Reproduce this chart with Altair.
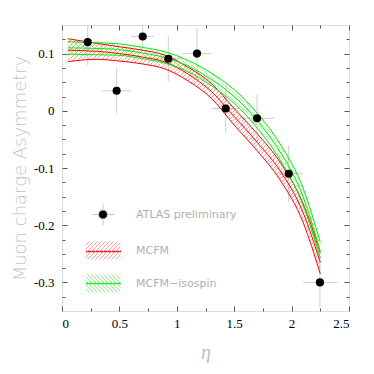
import altair as alt
import pandas as pd

# ---------------- data ----------------
eta = [0.224, 0.476, 0.703, 0.926, 1.176, 1.426, 1.699, 1.975, 2.247]
eta_lo = [0.10, 0.35, 0.60, 0.80, 1.05, 1.30, 1.55, 1.85, 2.10]
eta_hi = [0.35, 0.60, 0.80, 1.05, 1.30, 1.55, 1.85, 2.10, 2.40]
asym = [0.120, 0.035, 0.130, 0.091, 0.100, 0.004, -0.013, -0.110, -0.300]
asym_err = [0.040, 0.040, 0.025, 0.040, 0.045, 0.042, 0.041, 0.050, 0.045]

curve_eta = [0.05, 0.3, 0.5, 0.7, 0.9, 1.1, 1.3, 1.5, 1.7, 1.9, 2.1, 2.25]
mcfm_mid = [0.106, 0.104, 0.100, 0.094, 0.085, 0.064, 0.034, -0.010, -0.055, -0.105, -0.178, -0.265]
mcfm_hi = [0.126, 0.118, 0.112, 0.106, 0.097, 0.076, 0.048, 0.004, -0.040, -0.090, -0.162, -0.248]
mcfm_lo = [0.086, 0.090, 0.087, 0.082, 0.073, 0.052, 0.022, -0.025, -0.070, -0.121, -0.195, -0.285]
iso_mid = [0.110, 0.109, 0.107, 0.101, 0.093, 0.078, 0.055, 0.025, -0.017, -0.072, -0.150, -0.246]
iso_hi = [0.121, 0.119, 0.117, 0.111, 0.103, 0.088, 0.066, 0.037, -0.004, -0.058, -0.135, -0.230]
iso_lo = [0.099, 0.098, 0.097, 0.091, 0.083, 0.068, 0.044, 0.013, -0.030, -0.086, -0.165, -0.257]

names = ["ATLAS preliminary", "MCFM", "MCFM\u2212isospin"]
x_major = [0, 0.5, 1.0, 1.5, 2.0, 2.5]
x_minor = [0.25, 0.75, 1.25, 1.75, 2.25]
y_major = [-0.3, -0.2, -0.1, 0.0, 0.1]
y_minor = [-0.325, -0.275, -0.25, -0.225, -0.175, -0.15, -0.125, -0.075,
           -0.05, -0.025, 0.025, 0.05, 0.075, 0.125]

# ---------------- tables ----------------
pts = pd.DataFrame({"eta": eta, "eta_lo": eta_lo, "eta_hi": eta_hi, "asym": asym, "err": asym_err})
pts["y_lo"] = pts["asym"] - pts["err"]
pts["y_hi"] = pts["asym"] + pts["err"]
pts["series"] = names[0]

bands = pd.DataFrame({"eta": curve_eta, "mcfm_lo": mcfm_lo, "mcfm_hi": mcfm_hi,
                      "iso_lo": iso_lo, "iso_hi": iso_hi})
rows = []
for model, arrs in [(names[1], [mcfm_lo, mcfm_mid, mcfm_hi]), (names[2], [iso_lo, iso_mid, iso_hi])]:
    for k, arr in zip(["lo", "mid", "hi"], arrs):
        for e, v in zip(curve_eta, arr):
            rows.append({"eta": e, "value": v, "model": model, "curve": model + k})
lines = pd.DataFrame(rows)

# ---------------- styling helpers ----------------
W, H = 287, 286
FRAME = "#555555"
SERIF = "Liberation Serif, Times New Roman, DejaVu Serif, serif"
xs = alt.Scale(domain=[0, 2.5], nice=False, zero=False)
ys = alt.Scale(domain=[-0.35, 0.15], nice=False, zero=False)


def inner(orient, values, size, offset):
    return alt.Axis(orient=orient, offset=offset, values=values, tickSize=size,
                    labels=False, domain=False, grid=False, title=None,
                    tickColor=FRAME, tickWidth=1)


def hatch(rgb, forward, n=110, frac=0.22, alpha=0.38):
    on = "rgba(%s,%s)" % (rgb, alpha)
    off = "rgba(%s,0)" % rgb
    stops = []
    p = 1.0 / n
    for k in range(n):
        a = k * p
        b = a + p * frac
        stops += [alt.GradientStop(color=on, offset=round(a, 6)),
                  alt.GradientStop(color=on, offset=round(b, 6)),
                  alt.GradientStop(color=off, offset=round(b, 6)),
                  alt.GradientStop(color=off, offset=round(min(a + p, 1.0), 6))]
    if forward:
        return alt.Gradient(gradient="linear", stops=stops, x1=0, y1=0, x2=1, y2=1)
    return alt.Gradient(gradient="linear", stops=stops, x1=0, y1=1, x2=1, y2=0)


def hatch_path(forward, h=0.514, step=0.229):
    segs = []
    c = -1 - h
    while c <= 1 + h + 1e-9:
        x0, x1 = max(-1, c - h), min(1, c + h)
        if x1 > x0:
            if forward:   # x + y = c  ("/" on screen)
                segs.append("M%.3f,%.3fL%.3f,%.3f" % (x0, c - x0, x1, c - x1))
            else:         # x - y = c  ("\" on screen)
                segs.append("M%.3f,%.3fL%.3f,%.3f" % (x0, x0 - c, x1, x1 - c))
        c += step
    return "".join(segs)


r = 0.257
atlas_path = ("M%.3f,0A%.3f,%.3f,0,1,0,%.3f,0A%.3f,%.3f,0,1,0,%.3f,0Z" % (-r, r, r, r, r, r, -r)
              + "M-0.66,0L%.3f,0M%.3f,0L0.66,0M0,-0.63L0,%.3fM0,%.3fL0,0.63" % (-r, r, -r, r))

y_label_expr = ("datum.value == 0 ? '0' : (datum.value < 0 ? '-' + format(-datum.value, '.1f') "
                ": format(datum.value, '.1f'))")

x_label_axis = alt.Axis(orient="bottom", values=x_major, ticks=False, domain=False, grid=False,
                        labelFont=SERIF, labelFontSize=13, labelColor="black",
                        labelPadding=6, format="~g", title="\u03b7", titleFont=SERIF,
                        titleFontStyle="italic", titleFontWeight="normal", titleFontSize=20,
                        titleColor="#bdbdbd", titlePadding=12)
y_label_axis = alt.Axis(orient="left", values=y_major, ticks=False, domain=False, grid=False,
                        labelFont=SERIF, labelFontSize=13, labelColor="black",
                        labelPadding=8, labelExpr=y_label_expr, title="Muon charge Asymmetry",
                        titleFont="DejaVu Sans", titleFontWeight=200, titleFontSize=18,
                        titleColor="#c4c4c4", titlePadding=4)

# ---------------- layers ----------------
vbars = alt.Chart(pts).mark_rule(color="#cfcfcf", strokeWidth=1, clip=True).encode(
    x=alt.X("eta:Q", scale=xs, axis=x_label_axis),
    y=alt.Y("y_lo:Q", scale=ys, axis=y_label_axis),
    y2="y_hi:Q",
)
hbars = alt.Chart(pts).mark_rule(color="#cfcfcf", strokeWidth=1, clip=True).encode(
    x=alt.X("eta_lo:Q", scale=xs, axis=inner("top", x_major, 5, -H)),
    x2="eta_hi:Q",
    y=alt.Y("asym:Q", scale=ys, axis=inner("right", y_major, 5, -W)),
)
red_band = alt.Chart(bands).mark_area(color=hatch("255,0,0", True), interpolate="monotone").encode(
    x=alt.X("eta:Q", scale=xs, axis=inner("top", x_minor, 3, -H)),
    y=alt.Y("mcfm_lo:Q", scale=ys, axis=inner("right", y_minor, 3, -W)),
    y2="mcfm_hi:Q",
)
green_band = alt.Chart(bands).mark_area(color=hatch("0,230,0", False), interpolate="monotone").encode(
    x=alt.X("eta:Q", scale=xs, axis=inner("bottom", x_major, 5, -H)),
    y=alt.Y("iso_lo:Q", scale=ys, axis=inner("left", y_major, 5, -W)),
    y2="iso_hi:Q",
)
curve_lines = alt.Chart(lines).mark_line(strokeWidth=1, interpolate="monotone").encode(
    x=alt.X("eta:Q", scale=xs, axis=inner("bottom", x_minor, 3, -H)),
    y=alt.Y("value:Q", scale=ys, axis=inner("left", y_minor, 3, -W)),
    detail="curve:N",
    color=alt.Color("model:N", scale=alt.Scale(domain=names[1:], range=["#ff0000", "#00ee00"]),
                    legend=alt.Legend(orient="none", legendX=23, legendY=208, title=None,
                                      symbolType="stroke", symbolSize=1225, symbolStrokeWidth=1.3,
                                      labelExpr="''", labelFontSize=11, labelOffset=15,
                                      rowPadding=8, padding=0)),
)
points = alt.Chart(pts).mark_circle(color="black", size=66, opacity=1).encode(
    x=alt.X("eta:Q", scale=xs, axis=None),
    y=alt.Y("asym:Q", scale=ys, axis=None),
)

legA = alt.Legend(orient="none", legendX=23, legendY=171.5, title=None, symbolSize=1225,
                  symbolStrokeWidth=1, labelFont="DejaVu Sans", labelFontSize=11,
                  labelColor="#b0b0b0", labelOffset=15, rowPadding=4, padding=0)
legend_host = alt.Chart(pts).transform_filter("false").mark_point(filled=True, opacity=1).encode(
    x=alt.X("eta:Q", scale=xs, axis=None),
    y=alt.Y("asym:Q", scale=ys, axis=None),
    shape=alt.Shape("series:N", scale=alt.Scale(domain=names,
                    range=[atlas_path, hatch_path(True), hatch_path(False)]), legend=legA),
    fill=alt.Fill("series:N", scale=alt.Scale(domain=names,
                  range=["#000000", "transparent", "transparent"]), legend=legA),
    stroke=alt.Stroke("series:N", scale=alt.Scale(domain=names,
                      range=["#c8c8c8", "#ff9a9a", "#8af08a"]), legend=legA),
)

chart = alt.layer(vbars, hbars, red_band, green_band, curve_lines, points, legend_host).resolve_axis(
    x="independent", y="independent"
).properties(
    width=W, height=H,
    padding={"left": 54, "top": 17, "right": 15, "bottom": 52},
    autosize=alt.AutoSizeParams(type="none"),
).configure_view(stroke=FRAME, strokeWidth=1).configure(background="white")

chart.save("out.html", embed_options={"renderer": "svg", "actions": False})
